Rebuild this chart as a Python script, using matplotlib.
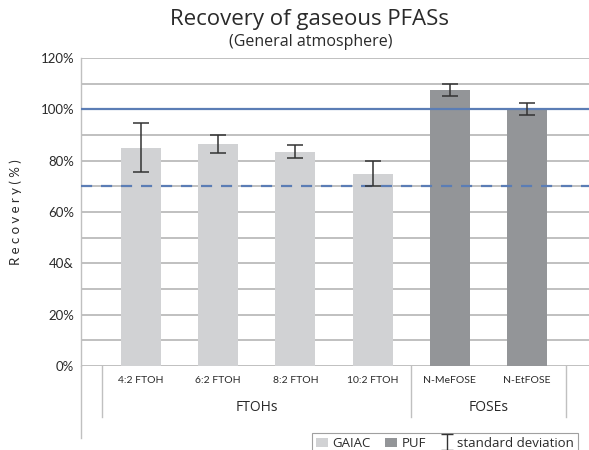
import matplotlib.pyplot as plt
from matplotlib.patches import Patch
from matplotlib.legend_handler import HandlerErrorbar

plt.rcParams['font.family'] = ['Lato', 'DejaVu Sans']

COMPOUNDS = ["4:2 FTOH", "6:2 FTOH", "8:2 FTOH", "10:2 FTOH", "N-MeFOSE", "N-EtFOSE"]
RECOVERY = [85.0, 86.5, 83.5, 75.0, 107.6, 100.0]
STD_DEV = [9.5, 3.4, 2.5, 5.0, 2.4, 2.4]
SAMPLER = ["GAIAC", "GAIAC", "GAIAC", "GAIAC", "PUF", "PUF"]
GROUPS = ["FTOHs", "FOSEs"]
GROUP_SPANS = [(-0.5, 3.5), (3.5, 5.5)]
Y_TICKS = [0, 20, 40, 60, 80, 100, 120]
Y_TICK_LABELS = ["0%", "20%", "40&", "60%", "80%", "100%", "120%"]

COLORS = {"GAIAC": "#d1d2d4", "PUF": "#939598"}
BLUE = "#5b7db5"
GRID = "#c0c0c0"
TEXT = "#2a2a2a"
WIDE = ["Open Sans", "DejaVu Sans"]


def main():
    fig = plt.figure(figsize=(5.89, 4.5), dpi=100)
    ax = fig.add_axes([81 / 589, 1 - 366 / 450, 1 - 81 / 589, (366 - 58) / 450])

    x = list(range(len(COMPOUNDS)))
    ax.set_xlim(-0.777, 5.803)
    ax.set_ylim(0, 120)

    # gridlines every 10%
    for v in range(0, 121, 10):
        ax.axhline(v, color=GRID, lw=1.4, zorder=0)

    ax.bar(x, RECOVERY, width=0.52, color=[COLORS[s] for s in SAMPLER], zorder=2)
    ax.errorbar(x, RECOVERY, yerr=STD_DEV, fmt="none", ecolor="#333333",
                elinewidth=1.1, capsize=5.5, capthick=1.1, zorder=4)

    # 100% and 70% reference lines, drawn over the bars
    ax.axhline(100, color=BLUE, lw=1.6, zorder=3)
    ax.axhline(70, color=BLUE, lw=1.6, ls=(0, (5, 4)), zorder=3)

    for s in ["top", "right", "bottom"]:
        ax.spines[s].set_visible(False)
    ax.spines["left"].set_color(GRID)
    ax.spines["left"].set_linewidth(1.0)
    ax.spines["left"].set_bounds(0, 120)
    # extend y-axis line below
    ax.plot([-0.777, -0.777], [0, -28], color=GRID, lw=1.0, clip_on=False)

    ax.set_yticks(Y_TICKS)
    ax.set_yticklabels(Y_TICK_LABELS, fontsize=9.5, color=TEXT)
    ax.tick_params(axis="y", length=0, pad=5)
    ax.set_xticks([])

    ax.set_ylabel("R e c o v e r y ( % )", fontsize=9.5, color=TEXT, labelpad=13)

    # category labels and group labels
    for i, name in enumerate(COMPOUNDS):
        ax.text(i, -5.5, name, ha="center", va="center", fontsize=7.5, color=TEXT)
    for (a, b), g in zip(GROUP_SPANS, GROUPS):
        ax.text((a + b) / 2, -16, g, ha="center", va="center",
                fontsize=10, color=TEXT, family=WIDE)
    for sep in [-0.5, 3.5, 5.5]:
        ax.plot([sep, sep], [0, -20], color=GRID, lw=1.0, clip_on=False)

    fig.text(310 / 589, 1 - 20 / 450, "Recovery of gaseous PFASs", ha="center",
             va="center", fontsize=16, color=TEXT, family=WIDE)
    fig.text(311 / 589, 1 - 42 / 450, "(General atmosphere)", ha="center",
             va="center", fontsize=11.5, color=TEXT, family=WIDE)

    # dummy errorbar (outside the view) only for the legend handle
    sd = ax.errorbar([-50], [50], yerr=[5], fmt="none", ecolor="#333333",
                     elinewidth=1.0, capsize=4, capthick=1.0)
    handles = [
        Patch(facecolor=COLORS["GAIAC"], label="GAIAC"),
        Patch(facecolor=COLORS["PUF"], label="PUF"),
        sd,
    ]
    labels = ["GAIAC", "PUF", "standard deviation"]
    leg = fig.legend(handles, labels, loc="upper left",
                     bbox_to_anchor=(312 / 589, 1 - 433 / 450), ncol=3,
                     prop={"family": WIDE, "size": 9.5}, frameon=True, fancybox=False,
                     handlelength=0.9, handletextpad=0.35, columnspacing=1.1,
                     borderpad=0.3, borderaxespad=0,
                     handler_map={type(sd): HandlerErrorbar(yerr_size=0.6)})
    leg.get_frame().set_edgecolor("#888888")
    leg.get_frame().set_linewidth(0.8)
    for t in leg.get_texts():
        t.set_color(TEXT)

    fig.savefig("out.png", dpi=100)


if __name__ == "__main__":
    main()
